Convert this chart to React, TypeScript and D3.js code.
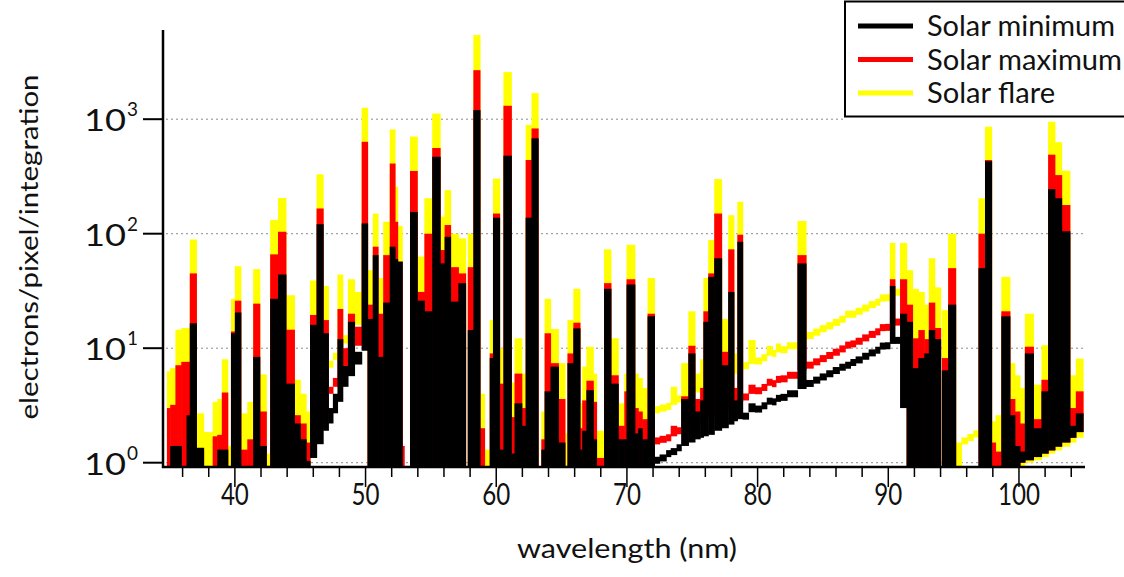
import React from 'react';
import * as d3 from 'd3';

// Bin edges (nm) of the decimated spectrum segments
const edges = [
  34.5, 34.8, 35.05, 35.45, 35.9, 36.3, 36.55, 37.05, 37.6, 38.3, 38.65, 39.0, 39.45, 39.7, 40.0, 40.45,
  40.95, 41.4, 41.9, 42.4, 42.7, 43.3, 43.9, 44.55, 45.0, 45.45, 45.75, 46.25, 46.75, 47.15, 47.5, 47.85,
  48.25, 48.65, 49.15, 49.7, 50.15, 50.55, 50.95, 51.35, 51.85, 52.25, 52.45, 52.8, 52.95, 53.4, 53.95, 54.5,
  55.1, 55.7, 56.05, 56.5, 57.1, 57.65, 57.82, 58.25, 58.75, 59.1, 59.5, 59.75, 60.25, 60.55, 61.15, 61.4,
  61.95, 62.25, 62.7, 63.2, 63.45, 63.7, 64.15, 64.75, 65.25, 65.45, 65.9, 66.4, 66.58, 66.9, 67.42, 67.67,
  68.25, 68.77, 69.33, 69.8, 69.97, 70.6, 70.86, 71.17, 71.58, 72.1, 72.5, 73.0, 73.35, 73.8, 74.15, 74.7,
  75.2, 75.6, 75.85, 76.22, 76.68, 77.24, 77.75, 78.18, 78.45, 78.85, 79.3, 79.8, 80.3, 80.7, 81.1, 81.4,
  81.75, 82.25, 83.05, 83.7, 84.25, 84.75, 85.25, 85.75, 86.25, 86.7, 87.1, 87.5, 88.0, 88.5, 89.0, 89.35,
  89.75, 90.12, 90.5, 90.9, 91.4, 91.85, 92.3, 92.75, 93.1, 93.55, 94.0, 94.1, 94.58, 95.15, 95.6, 96.05,
  96.5, 96.9, 97.4, 97.9, 98.2, 98.65, 99.3, 99.68, 100.07, 100.45, 101.1, 101.72, 102.23, 102.74, 103.26, 103.89,
  104.35, 104.9,
];

// Solar minimum (black): top of each segment and its lower edge (0 = down to the axis)
const minTop = [
  0, 0, 1.4, 1.4, 0, 2.6, 16.5, 1.35, 0, 0, 1.3, 1.3, 0, 13.5, 20.5, 0,
  0, 8.4, 1.4, 0, 27, 44, 4.9, 2.2, 1.6, 1.0, 16, 121, 13.5, 3.0, 4.0, 12,
  7.0, 17, 9.3, 123, 18, 65, 8.4, 25, 77, 60, 57, 0, 0, 155, 26, 21,
  470, 55, 94, 25.5, 37, 0, 14.4, 1200, 0, 0, 8.2, 138, 1.3, 480, 1.2, 3.3,
  2.1, 138, 680, 0, 1.3, 4.2, 6.9, 1.5, 0, 7.4, 14.9, 1.3, 1.9, 4.3, 1.6, 0,
  33, 4.9, 1.6, 1.6, 36, 1.8, 2.0, 1.6, 19, 1.05, 1.1, 1.2, 1.25, 1.35, 3.6, 9,
  2.8, 3.5, 17, 42, 61, 7.1, 31, 3.5, 85, 2.6, 3.3, 2.94, 3.14, 3.6, 3.4, 3.8,
  3.72, 4.0, 55, 4.92, 5.26, 5.61, 5.98, 6.38, 6.82, 7.1, 7.5, 7.9, 8.5, 9.1, 9.6, 11,
  10.5, 35, 11.7, 20, 17, 6.7, 8.2, 9, 14.4, 12, 0, 6.4, 24, 0, 0, 0,
  0, 50, 430, 0, 0, 19, 2.6, 1.4, 1.25, 9, 2.0, 4.2, 245, 204, 105, 2.1,
  2.7,
];
const minFloor = [
  0, 0, 0, 0, 0, 0, 0, 0, 0, 0, 0, 0, 0, 0, 0, 0,
  0, 0, 0, 0, 0, 0, 0, 0, 0, 0, 1.1, 1.45, 1.9, 2.2, 2.7, 3.4,
  4.6, 5.7, 7.2, 9.5, 0, 0, 0, 0, 0, 0, 0, 0, 0, 0, 0, 0,
  0, 0, 0, 0, 0, 0, 0, 0, 0, 0, 0, 0, 0, 0, 0, 0,
  0, 0, 0, 0, 0, 0, 0, 0, 0, 0, 0, 0, 0, 0, 0, 0,
  0, 0, 0, 0, 0, 0, 0, 0, 0, 1.05, 1.1, 1.2, 1.25, 1.35, 1.4, 1.5,
  1.6, 1.65, 1.7, 1.75, 1.9, 2.0, 2.15, 2.3, 2.4, 2.5, 2.76, 2.94, 3.14, 3.3, 3.4, 3.5,
  3.72, 4.0, 4.4, 4.92, 5.26, 5.61, 5.98, 6.38, 6.82, 7.1, 7.5, 7.9, 8.5, 9.1, 9.6, 9.9,
  10.5, 10.9, 11.7, 3.0, 0, 0, 0, 0, 0, 0, 0, 0, 0, 0, 0, 0,
  0, 0, 0, 0, 0, 0, 0, 0, 1.0, 1.05, 1.12, 1.2, 1.28, 1.38, 1.5, 1.65,
  1.85,
];

// Solar maximum (red)
const maxTop = [
  0, 3.0, 3.2, 7.1, 7.6, 7.6, 45, 1.3, 0, 1.7, 1.75, 4.1, 0, 14, 26, 1.3,
  1.6, 24.5, 2.8, 0, 66, 104, 14.5, 2.6, 2.2, 1.5, 19.5, 166, 17.6, 4.6, 5.5, 22,
  10, 20, 15.4, 635, 24, 77, 20, 65, 410, 127, 57, 1.4, 0, 353, 31, 100,
  560, 72, 119, 51, 45, 0, 51, 2680, 2.0, 0, 9, 150, 4.9, 1310, 2.5, 6,
  3, 440, 830, 0, 1.6, 13.5, 7.4, 3.6, 0, 9, 16.7, 2, 3.5, 5.2, 3.4, 1.1,
  37, 5.8, 2.1, 4.2, 40, 3, 2.8, 2.4, 20, 1.55, 1.6, 1.65, 2.1, 1.9, 3.8, 10.5,
  3.6, 4.5, 21, 45, 150, 9.3, 73, 4.5, 98, 3.8, 4.8, 4.25, 4.54, 5.4, 4.9, 5.7,
  5.4, 5.8, 65, 7.11, 7.6, 8.11, 8.64, 9.22, 9.86, 11, 10.9, 11.5, 12.3, 13.2, 13.9, 16,
  15.2, 40, 16.9, 40, 24, 12.2, 14.4, 12, 25, 15, 0, 8.2, 50, 0, 0, 0,
  0, 100, 440, 1.5, 1.25, 21, 3.6, 2.8, 2.2, 10.3, 2.4, 5.3, 490, 325, 178, 3.0,
  4.2,
];
const maxFloor = [
  0, 0, 0, 0, 0, 0, 0, 0, 0, 0, 0, 0, 0, 0, 0, 0,
  0, 0, 0, 0, 0, 0, 0, 0, 0, 0, 1.5, 2.0, 2.7, 4.0, 4.6, 5,
  7, 8.5, 10.5, 13, 0, 0, 0, 0, 0, 0, 0, 0, 0, 0, 0, 0,
  0, 0, 0, 0, 0, 0, 0, 0, 0, 0, 0, 0, 0, 0, 0, 0,
  0, 0, 0, 0, 0, 0, 0, 0, 0, 0, 0, 0, 0, 0, 0, 0,
  0, 0, 0, 0, 0, 0, 0, 0, 0, 1.55, 1.6, 1.65, 1.7, 1.9, 1.95, 2.1,
  2.2, 2.3, 2.4, 2.5, 2.7, 2.9, 3.1, 3.3, 3.4, 3.7, 3.99, 4.25, 4.54, 4.7, 4.9, 5.0,
  5.4, 5.8, 6.4, 7.11, 7.6, 8.11, 8.64, 9.22, 9.86, 10.3, 10.9, 11.5, 12.3, 13.2, 13.9, 14.3,
  15.2, 15.8, 16.9, 17.5, 0, 0, 0, 0, 0, 0, 0, 0, 0, 0, 0, 0,
  0, 0, 0, 0, 0, 0, 0, 0, 1.0, 1.05, 1.12, 1.2, 1.28, 1.38, 1.5, 1.65,
  1.85,
];

// Solar flare (yellow)
const flareTop = [
  0, 6.3, 6.7, 14.5, 15, 15, 89, 2.7, 1.85, 3.4, 3.6, 8.0, 1.4, 27, 52, 2.7,
  3.4, 49, 5.9, 1.2, 132, 205, 29, 5.3, 4.0, 2.8, 39, 330, 35, 7.5, 9.0, 44,
  13, 40, 31, 1260, 48, 150, 41, 127, 815, 257, 117, 0, 0, 705, 63, 204,
  1120, 141, 240, 100, 91, 0, 100, 5430, 4.0, 1.3, 17.6, 303, 10, 2580, 5, 12.2,
  6, 890, 1690, 0, 2.8, 27, 14.7, 7.4, 1.8, 17.6, 33, 3.3, 6.9, 10.3, 6, 1.9,
  73, 12.2, 3.3, 6, 80, 6, 5.5, 4.5, 41, 2.9, 3.0, 3.1, 4.6, 3.6, 7.4, 21,
  6, 8, 41, 88, 300, 18, 145, 9, 190, 7.5, 11.8, 7.73, 8.26, 10.5, 9.0, 11,
  9.7, 10.5, 129, 12.9, 13.8, 14.8, 15.7, 16.8, 17.9, 21, 19.8, 21, 22.4, 24, 25.2, 29,
  27.6, 83, 30.8, 83, 48, 33, 31, 24, 61, 34, 0, 21.5, 100, 1.5, 1.6, 1.72,
  1.85, 204, 860, 2.3, 2.6, 42, 7.4, 5.8, 4.5, 20, 4.8, 10.6, 950, 630, 355, 5.8,
  8.1,
];
const flareFloor = [
  0, 0, 0, 0, 0, 0, 0, 0, 0, 0, 0, 0, 0, 0, 0, 0,
  0, 0, 0, 0, 0, 0, 0, 0, 0, 0, 2.4, 3.2, 4.2, 7.0, 8.0, 8.5,
  11, 13, 16, 20, 0, 0, 0, 0, 0, 0, 0, 0, 0, 0, 0, 0,
  0, 0, 0, 0, 0, 0, 0, 0, 0, 0, 0, 0, 0, 0, 0, 0,
  0, 0, 0, 0, 0, 0, 0, 0, 0, 0, 0, 0, 0, 0, 0, 0,
  0, 0, 0, 0, 0, 0, 0, 0, 0, 2.9, 3.0, 3.1, 3.2, 3.6, 3.7, 3.9,
  4.1, 4.3, 4.5, 4.6, 5, 5.3, 5.6, 6, 6.2, 6.6, 7.26, 7.73, 8.26, 8.6, 9.0, 9.2,
  9.7, 10.5, 11.6, 12.9, 13.8, 14.8, 15.7, 16.8, 17.9, 18.6, 19.8, 21, 22.4, 24, 25.2, 26,
  27.6, 28.7, 30.8, 31.5, 0, 0, 0, 0, 0, 0, 0, 0, 0, 0, 1.5, 1.6, 1.72,
  1.85, 0, 0, 0, 0, 0, 0, 0, 1.0, 1.05, 1.12, 1.2, 1.28, 1.38, 1.5, 1.65,
  1.85,
];

const seriesNames = ['Solar minimum', 'Solar maximum', 'Solar flare'];
const seriesColors = ['#000000', '#ff0000', '#ffff00'];
const xMajorTicks = [40, 50, 60, 70, 80, 90, 100];
const yTickExponents = [0, 1, 2, 3];
const xTitle = 'wavelength (nm)';
const yTitle = 'electrons/pixel/integration';

const W = 1124;
const H = 577;
const PLOT = { left: 163, right: 1083, top: 30, bottom: 467 };
const FONT = 'Lato, "Open Sans", sans-serif';
const LINE_T = 7; // thickness of the traced continuum

export default function App() {
  const x = d3.scaleLinear().domain([34.5, 104.9]).range([PLOT.left, PLOT.right]);
  const y = d3.scaleLog().domain([0.917, 6012]).range([PLOT.bottom, PLOT.top]);
  const barBottom = PLOT.bottom - 1;

  const series = [
    { top: flareTop, floor: flareFloor, color: seriesColors[2] },
    { top: maxTop, floor: maxFloor, color: seriesColors[1] },
    { top: minTop, floor: minFloor, color: seriesColors[0] },
  ];

  const minorTicks = d3.range(36, 105, 2).filter((v) => v % 10 !== 0);

  return (
    <svg
      width={W}
      height={H}
      style={{ position: 'absolute', left: 0, top: 0, background: '#fff' }}
      fontFamily={FONT}
    >
      <defs>
        <clipPath id="plotClip">
          <rect x={PLOT.left} y={PLOT.top} width={PLOT.right - PLOT.left + 2} height={PLOT.bottom - PLOT.top} />
        </clipPath>
      </defs>
      {yTickExponents.map((e) => {
        const yy = y(Math.pow(10, e));
        return (
          <line
            key={'g' + e}
            x1={PLOT.left + 3}
            x2={e === 3 ? 845 : PLOT.right}
            y1={yy}
            y2={yy}
            stroke="#8c8c8c"
            strokeWidth={1}
            strokeDasharray="2,3"
          />
        );
      })}
      <g clipPath="url(#plotClip)">
        {series.map((s, si) => (
          <g key={si} fill={s.color}>
            {s.top.map((t, i) => {
              if (!(t > 0)) return null;
              const x0 = x(edges[i]);
              const x1 = x(edges[i + 1]);
              const yt = y(t);
              const f = s.floor[i];
              const yb = f > 0 ? Math.min(y(f), barBottom) : barBottom;
              let top = yt;
              let h = yb - yt;
              if (h < LINE_T) {
                top = (yt + yb) / 2 - LINE_T / 2;
                h = LINE_T;
              }
              if (top + h > barBottom) h = barBottom - top;
              return <rect key={i} x={x0} y={top} width={x1 - x0 + 0.6} height={Math.max(h, 0)} />;
            })}
          </g>
        ))}
      </g>
      <line x1={PLOT.left} x2={PLOT.left} y1={PLOT.top} y2={PLOT.bottom + 1} stroke="#000" strokeWidth={2.5} />
      <line x1={PLOT.left - 1} x2={PLOT.right + 2} y1={PLOT.bottom} y2={PLOT.bottom} stroke="#000" strokeWidth={2.5} />
      {yTickExponents.map((e) => {
        const yy = y(Math.pow(10, e));
        return (
          <g key={'yt' + e}>
            <line x1={PLOT.left - 20} x2={PLOT.left} y1={yy} y2={yy} stroke="#000" strokeWidth={2} />
            <text x={84} y={yy + 12} fontSize={31} textLength={42} lengthAdjust="spacingAndGlyphs" fill="#111">
              10
            </text>
            <text x={127} y={yy - 3} fontSize={19} textLength={11} lengthAdjust="spacingAndGlyphs" fill="#111">
              {String(e)}
            </text>
          </g>
        );
      })}
      {minorTicks.map((v) => (
        <line key={'mt' + v} x1={x(v)} x2={x(v)} y1={PLOT.bottom} y2={PLOT.bottom + 10} stroke="#000" strokeWidth={1.5} />
      ))}
      {xMajorTicks.map((v) => (
        <g key={'xt' + v}>
          <line x1={x(v)} x2={x(v)} y1={PLOT.bottom} y2={PLOT.bottom + 20} stroke="#000" strokeWidth={1.5} />
          <text
            x={x(v)}
            y={505}
            fontSize={30}
            textAnchor="middle"
            textLength={String(v).length * 14}
            lengthAdjust="spacingAndGlyphs"
            fill="#111"
          >
            {String(v)}
          </text>
        </g>
      ))}
      <text x={627} y={558} fontSize={27} textAnchor="middle" textLength={220} lengthAdjust="spacingAndGlyphs" fill="#111">
        {xTitle}
      </text>
      <text
        transform={`translate(38,247) rotate(-90)`}
        fontSize={25}
        textAnchor="middle"
        textLength={345}
        lengthAdjust="spacingAndGlyphs"
        fill="#111"
      >
        {yTitle}
      </text>
      <rect x={845} y={1.5} width={300} height={115} fill="#fff" stroke="#000" strokeWidth={2} />
      {seriesNames.map((n, i) => {
        const ly = 26 + i * 33.5;
        const lens = [188, 195, 128];
        return (
          <g key={n}>
            <line x1={858} x2={913} y1={ly} y2={ly} stroke={seriesColors[i]} strokeWidth={5} />
            <text x={927} y={ly + 10} fontSize={29} textLength={lens[i]} lengthAdjust="spacingAndGlyphs" fill="#111">
              {n}
            </text>
          </g>
        );
      })}
    </svg>
  );
}
